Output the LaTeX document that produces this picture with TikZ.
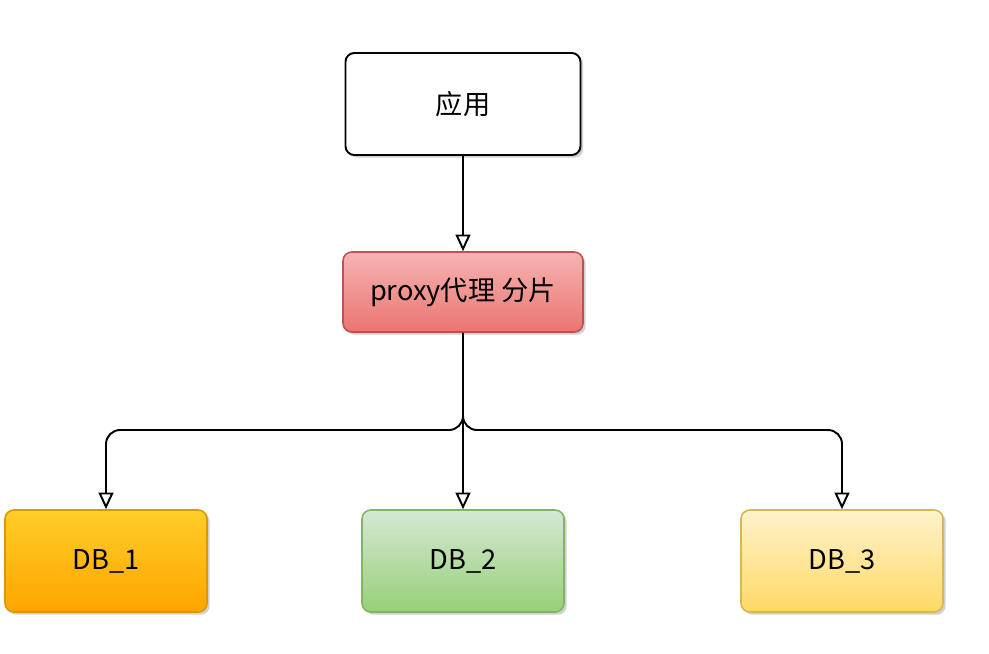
\documentclass[tikz,border=0pt]{standalone}
\usepackage{fontspec}
\setmainfont{Noto Sans CJK SC}
\usetikzlibrary{arrows.meta,shadows,calc}
\definecolor{redTop}{HTML}{F6B4B2}
\definecolor{redBot}{HTML}{EA7572}
\definecolor{redStroke}{HTML}{B85450}
\definecolor{oraTop}{HTML}{FFCD28}
\definecolor{oraBot}{HTML}{FFA500}
\definecolor{oraStroke}{HTML}{D79B00}
\definecolor{grnTop}{HTML}{D5E8D4}
\definecolor{grnBot}{HTML}{97D077}
\definecolor{grnStroke}{HTML}{82B366}
\definecolor{ylwTop}{HTML}{FFF2CC}
\definecolor{ylwBot}{HTML}{FFD966}
\definecolor{ylwStroke}{HTML}{D6B656}
\tikzset{
  boxbase/.style={rounded corners=5pt, line width=0.9pt, align=center,
    font=\fontsize{15.5}{18}\selectfont, inner sep=0pt,
    drop shadow={shadow xshift=1.5pt, shadow yshift=-1.5pt, opacity=0.18, fill=black}},
  appbox/.style={boxbase, draw=black, line width=1.1pt, fill=white, minimum width=235*0.02cm, minimum height=102*0.02cm},
  proxybox/.style={boxbase, draw=redStroke, top color=redTop, bottom color=redBot, minimum width=240*0.02cm, minimum height=80*0.02cm},
  dbbox/.style={boxbase, minimum width=202*0.02cm, minimum height=102*0.02cm},
  arr/.style={-{Triangle[open,length=9.5pt,width=8.5pt]}, line width=1.1pt, black},
}
\begin{document}
\begin{tikzpicture}[x=0.02cm,y=-0.02cm]
\useasboundingbox (0,0) rectangle (989,653);
\node[appbox] (app) at (463,104) {应用};
\node[proxybox] (proxy) at (463,292) {proxy代理 分片};
\node[dbbox, draw=oraStroke, top color=oraTop, bottom color=oraBot] (db1) at (106,561) {DB\_1};
\node[dbbox, draw=grnStroke, top color=grnTop, bottom color=grnBot] (db2) at (463,561) {DB\_2};
\node[dbbox, draw=ylwStroke, top color=ylwTop, bottom color=ylwBot] (db3) at (842,561) {DB\_3};
\coordinate (br) at (463,430);
\draw[arr] (app.south) -- (proxy.north);
\draw[arr] (proxy.south) -- (db2.north);
\draw[arr, rounded corners=8pt] (proxy.south) -- (br) -| (db1.north);
\draw[arr, rounded corners=8pt] (proxy.south) -- (br) -| (db3.north);
\end{tikzpicture}
\end{document}
